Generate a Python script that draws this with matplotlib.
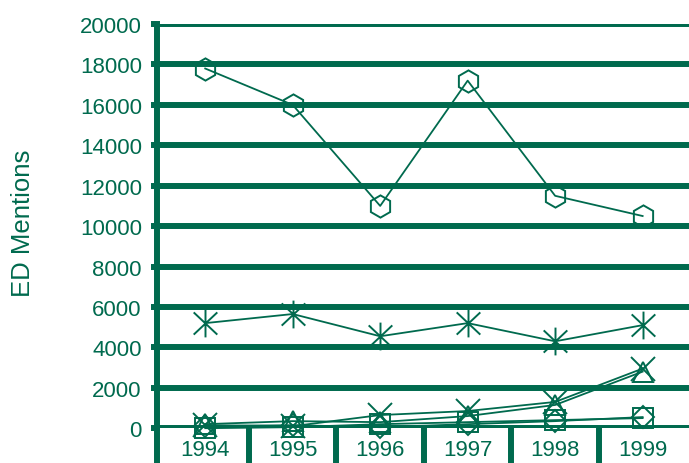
import matplotlib.pyplot as plt
from matplotlib.path import Path

GREEN = "#006A4E"

years = ["1994", "1995", "1996", "1997", "1998", "1999"]
y_ticks = [0, 2000, 4000, 6000, 8000, 10000, 12000, 14000, 16000, 18000, 20000]

# ED mentions per series
hexagon_vals = [17800, 16000, 11000, 17200, 11500, 10500]
asterisk_vals = [5200, 5650, 4550, 5200, 4300, 5100]
cross_vals = [150, 100, 650, 850, 1300, 2950]
triangle_vals = [200, 350, 300, 600, 1150, 2800]
square_vals = [0, 50, 200, 300, 400, 500]
diamond_vals = [100, 150, 50, 200, 350, 550]

# asterisk = X with a vertical bar through it
asterisk = Path(
    [(0, -1), (0, 1), (-0.85, -0.8), (0.85, 0.8), (-0.85, 0.8), (0.85, -0.8)],
    [Path.MOVETO, Path.LINETO, Path.MOVETO, Path.LINETO, Path.MOVETO, Path.LINETO],
)

series = [
    (hexagon_vals, "h", 16),
    (asterisk_vals, asterisk, 20),
    (cross_vals, "x", 17),
    (triangle_vals, "^", 15),
    (square_vals, "s", 14),
    (diamond_vals, "D", 11),
]

plt.rcParams["font.family"] = ["Liberation Sans", "DejaVu Sans"]

fig = plt.figure(figsize=(6.89, 4.64), dpi=100)
ax = fig.add_axes([0.228, 0.075, 0.772, 0.871])

x = list(range(len(years)))
for vals, marker, ms in series:
    ax.plot(x, vals, color=GREEN, lw=1.3, marker=marker, ms=ms,
            mfc="none", mec=GREEN, mew=1.4, clip_on=False, zorder=3)

ax.set_ylim(0, 20000)
ax.set_xlim(-0.55, 5.53)
ax.set_yticks(y_ticks)
ax.set_yticklabels([str(v) for v in y_ticks])
ax.yaxis.grid(True, color=GREEN, lw=4.3, solid_capstyle="butt")
ax.set_axisbelow(True)

ax.set_xticks(x)
ax.set_xticklabels(years)
ax.set_xticks([-0.55, 0.5, 1.5, 2.5, 3.5, 4.5], minor=True)
ax.tick_params(axis="x", which="major", length=0, pad=8, labelsize=16,
               labelcolor=GREEN)
ax.tick_params(axis="x", which="minor", length=26, width=4.3, color=GREEN,
               direction="out")
ax.tick_params(axis="y", length=4, width=4.3, color=GREEN, pad=7,
               labelsize=16, labelcolor=GREEN)

for side in ["top", "right", "bottom"]:
    ax.spines[side].set_visible(False)
ax.spines["left"].set_color(GREEN)
ax.spines["left"].set_linewidth(4.3)

ax.set_ylabel("ED Mentions", color=GREEN, fontsize=18.5)
ax.yaxis.set_label_coords(-0.229, 0.51)

fig.savefig("out.png", dpi=100)
